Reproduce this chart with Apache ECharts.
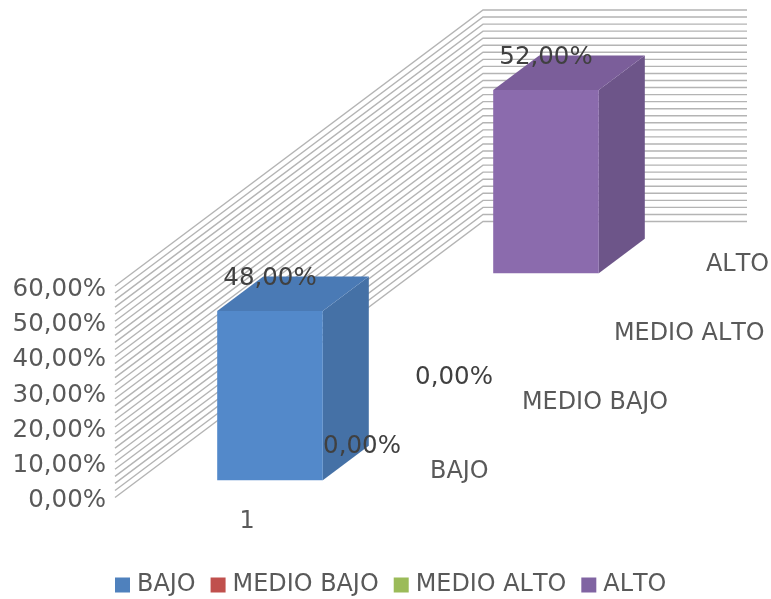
<!DOCTYPE html>
<html>
<head>
<meta charset="utf-8">
<style>html,body{margin:0;padding:0;background:#fff}#c{width:771px;height:599px}</style>
<script src="https://cdn.jsdelivr.net/npm/echarts@6/dist/echarts.min.js"></script>
</head>
<body>
<div id="c"></div>
<script>
const categories = ['1'];
const seriesNames = ['BAJO', 'MEDIO BAJO', 'MEDIO ALTO', 'ALTO'];
const seriesValues = [48, 0, 0, 52];
const depthLabels = ['BAJO', 'MEDIO BAJO', 'MEDIO ALTO', 'ALTO'];
const gridlineValues = [0,2,4,6,8,10,12,14,16,18,20,22,24,26,28,30,32,34,36,38,40,42,44,46,48,50,52,54,56,58,60];
const legendColors = ['#4F81BD', '#C0504D', '#9BBB59', '#8064A2'];
const frontColors = ['#5389CA', '#CC5552', '#A5C75E', '#8B6BAD'];
const sideColors = ['#4571A6', '#A04340', '#81A04A', '#6D5589'];
const topColors = ['#4A7AB5', '#B04A47', '#8FB050', '#7B5E9A'];

// The reference sets its text without kerning.
const nativeGetContext = HTMLCanvasElement.prototype.getContext;
HTMLCanvasElement.prototype.getContext = function () {
  const ctx = nativeGetContext.apply(this, arguments);
  if (ctx && 'fontKerning' in ctx) ctx.fontKerning = 'none';
  return ctx;
};

const FONT = '"DejaVu Sans", sans-serif';
const FS_TEXT = 23.9, FS_NUM = 24.5;
const SLOT_DX = 92, SLOT_DY = 69;   // oblique projection of one depth slot
const SLOTS = seriesNames.length;
const BAR_RATIO = 0.4, BAR_DEPTH = 0.5;

function shift(p, d) { return [p[0] + d * SLOT_DX, p[1] - d * SLOT_DY]; }
function poly(points, fill) {
  return { type: 'polygon', shape: { points }, style: { fill, stroke: null } };
}

function renderWalls(params, api) {
  const cs = params.coordSys;
  const v = api.value(0);
  const y = api.coord([0, v])[1];
  const a = [cs.x, y];
  const b = shift(a, SLOTS);
  const c = [b[0] + cs.width, b[1]];
  return {
    type: 'polyline',
    shape: { points: [a, b, c] },
    style: { fill: null, stroke: '#b4b4b4', lineWidth: 1.4 }
  };
}

function renderDepthLabels(params, api) {
  const cs = params.coordSys;
  const i = params.dataIndex;
  const base = [cs.x + cs.width, api.coord([0, 0])[1]];
  const p = shift(base, i + 0.5);
  return {
    type: 'text',
    style: {
      x: p[0] + 5, y: p[1] + 8.5, text: depthLabels[i],
      font: FS_TEXT + 'px ' + FONT, fill: '#595959',
      textAlign: 'left', textVerticalAlign: 'middle'
    }
  };
}

function barRenderer(idx) {
  return function (params, api) {
    const val = api.value(1);
    const c0 = api.coord([api.value(0), 0]);
    const c1 = api.coord([api.value(0), val]);
    const w = api.size([1, 0])[0] * BAR_RATIO;
    const d0 = idx + (1 - BAR_DEPTH) / 2;
    const d1 = d0 + BAR_DEPTH;
    const l = c0[0] - w / 2, r = c0[0] + w / 2;
    const fb = shift([l, c0[1]], d0), fbr = shift([r, c0[1]], d0);
    const ft = shift([l, c1[1]], d0), ftr = shift([r, c1[1]], d0);
    const bt = shift([l, c1[1]], d1), btr = shift([r, c1[1]], d1);
    const bbr = shift([r, c0[1]], d1);
    const children = [];
    if (val > 0) {
      children.push(poly([fbr, bbr, btr, ftr], sideColors[idx]));
      children.push(poly([ft, bt, btr, ftr], topColors[idx]));
      children.push(poly([fb, fbr, ftr, ft], frontColors[idx]));
    }
    children.push({
      type: 'text',
      z2: 10,
      style: {
        x: (ft[0] + ftr[0]) / 2,
        y: ft[1] + (val > 0 ? -32 : 35),
        text: val.toFixed(2).replace('.', ',') + '%',
        font: FS_NUM + 'px ' + FONT, fill: '#404040',
        textAlign: 'center', textVerticalAlign: 'middle'
      }
    });
    return { type: 'group', children };
  };
}

const series = [
  { name: 'paredes', type: 'custom', renderItem: renderWalls, silent: true, z: 1,
    data: gridlineValues.map(v => [v]), encode: { y: 0 } },
  { name: 'profundidad', type: 'custom', renderItem: renderDepthLabels, silent: true, z: 1,
    data: depthLabels.map((_, i) => [0, 0]), encode: { x: 0, y: 1 } }
];
seriesNames.forEach((name, i) => {
  series.push({
    name, type: 'custom', renderItem: barRenderer(i), z: 2,
    itemStyle: { color: legendColors[i] },
    data: [[0, seriesValues[i]]], encode: { x: 0, y: 1 }
  });
});

const chart = echarts.init(document.getElementById('c'), null, { renderer: 'canvas' });
chart.setOption({
  animation: false,
  backgroundColor: '#fff',
  grid: { left: 115, top: 286, width: 264, height: 211.5 },
  xAxis: {
    type: 'category', data: categories,
    axisLine: { show: false }, axisTick: { show: false }, splitLine: { show: false },
    axisLabel: { margin: 12, fontFamily: 'DejaVu Sans', fontSize: FS_TEXT, color: '#595959' }
  },
  yAxis: {
    type: 'value', min: 0, max: 60, interval: 10,
    axisLine: { show: false }, axisTick: { show: false }, splitLine: { show: false },
    axisLabel: {
      margin: 9, fontFamily: 'DejaVu Sans', fontSize: FS_NUM, color: '#595959',
      verticalAlign: 'top', lineHeight: 7,
      formatter: v => v.toFixed(2).replace('.', ',') + '%'
    }
  },
  legend: {
    data: seriesNames, left: 115, top: 573, padding: 0, itemWidth: 15, itemHeight: 15, itemGap: 15,
    icon: 'rect',
    textStyle: { fontFamily: 'DejaVu Sans', fontSize: FS_TEXT, color: '#595959', padding: [0, 0, 0, 2] }
  },
  series
});
</script>
</body>
</html>
